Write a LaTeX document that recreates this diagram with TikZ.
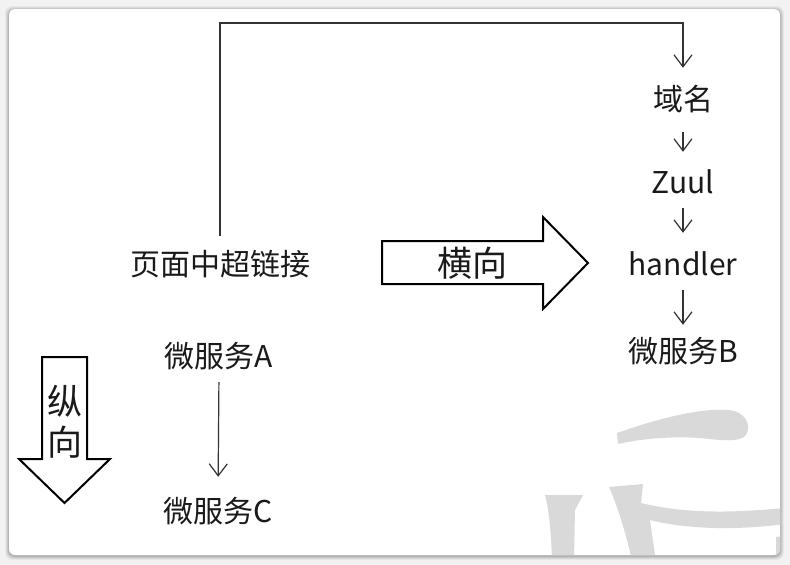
\documentclass[tikz,border=0pt]{standalone}
\usepackage{fontspec}
\setmainfont{Noto Sans CJK SC}
\usetikzlibrary{arrows.meta,calc}
\definecolor{pagebg}{HTML}{F2F2F2}
\definecolor{cardline}{HTML}{DCDCDC}
\definecolor{wmark}{HTML}{D9D9D9}
\definecolor{ink}{HTML}{1A1A1A}
\definecolor{lineink}{HTML}{333333}
\tikzset{
  lbl/.style={font=\fontsize{30}{40}\selectfont, text=ink, inner sep=0pt, text height=25pt, text depth=5pt},
  biglbl/.style={font=\fontsize{35}{41}\selectfont, text=ink, inner sep=0pt, align=center},
  conn/.style={draw=lineink, line width=1.2pt, -{Straight Barb[length=12pt,width=18pt,line width=1.2pt]}},
  blockarrow/.style={draw=black, line width=2pt, fill=white, line join=miter},
  wm/.style={fill=wmark, draw=none}
}
\begin{document}
\begin{tikzpicture}[x=1pt,y=-1pt]
\useasboundingbox (0,0) rectangle (790,565);
\fill[pagebg] (0,0) rectangle (790,565);
% card with soft shadow
\foreach \o/\a in {4/0.04,3/0.06,2/0.08,1/0.10}{
  \fill[black,opacity=\a,rounded corners=7pt] (9-\o,9-\o+1) rectangle (780+\o,555+\o+1);
}
\fill[white,rounded corners=6pt] (9,9) rectangle (780,555);
% watermark
\begin{scope}
\clip[rounded corners=6pt] (9,9) rectangle (780,555);
\fill[wm] (617,433) .. controls (660,418) and (700,408) .. (728,410)
  .. controls (745,411) and (752,425) .. (746,435)
  .. controls (740,443) and (720,440) .. (700,438)
  .. controls (670,436) and (640,439) .. (618,444) -- cycle;
\fill[wm] (545,495) -- (583,495) -- (575,510) -- (574,560) -- (552,560)
  .. controls (551,530) and (549,510) .. (545,495) -- cycle;
\fill[wm] (609,487) -- (643,484) -- (641,503)
  .. controls (690,515) and (740,512) .. (785,508) -- (785,524)
  .. controls (740,530) and (690,530) .. (650,520)
  .. controls (652,535) and (654,548) .. (656,560) -- (632,560)
  .. controls (625,530) and (617,505) .. (609,487) -- cycle;
\fill[wm] (776,537) -- (785,536) -- (785,560) -- (776,560) -- cycle;
\end{scope}
% nodes
\node[lbl] (page) at (220,265) {页面中超链接};
\node[lbl] (a) at (219,357) {微服务A};
\node[lbl] (c) at (218,512) {微服务C};
\node[lbl] (dom) at (683,100) {域名};
\node[lbl] (zuul) at (683,183) {Zuul};
\node[lbl] (hand) at (683,265) {handler};
\node[lbl] (b) at (683,352) {微服务B};
% connectors
\coordinate (topR) at (683,23);
\coordinate (topL) at (page.north |- topR);
\draw[conn, shorten <=14pt, shorten >=17pt] (page.north) -- (topL) -- (topR) -- (dom.north);
\draw[conn, shorten <=17pt, shorten >=16pt] (dom.south) -- (zuul.north);
\draw[conn, shorten <=10pt, shorten >=17pt] (zuul.south) -- (hand.north);
\draw[conn, shorten <=10pt, shorten >=12pt] (hand.south) -- (b.north);
\draw[conn, shorten <=10pt, shorten >=20pt] (a.south) -- (c.north);
% block arrows
\draw[blockarrow] (382,241) -- (543,241) -- (543,217) -- (588,263) -- (543,309) -- (543,284) -- (382,284) -- cycle;
\node[biglbl] (hz) at (472,263) {横向};
\draw[blockarrow] (42,357) -- (87,357) -- (87,459) -- (110,459) -- (64.5,503) -- (19,459) -- (42,459) -- cycle;
\node[biglbl] (vt) at (64.5,422) {纵\\向};
\end{tikzpicture}
\end{document}
